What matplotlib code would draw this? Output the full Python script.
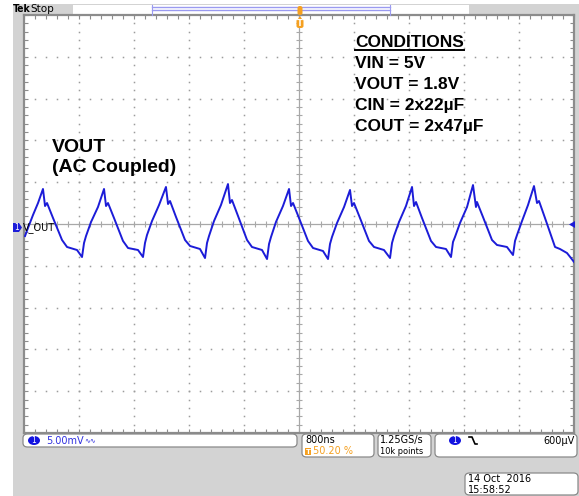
import numpy as np
import matplotlib
matplotlib.use("Agg")
import matplotlib.pyplot as plt
from matplotlib.patches import Rectangle, FancyBboxPatch, Ellipse, Polygon
from matplotlib.lines import Line2D

# ---------------- waveform (time in ns, VOUT in mV) ----------------
t_ns = [-3985, -3942, -3869, -3796, -3724,
        -3694, -3665, -3578, -3447, -3374, -3229, -3156, -3127, -3098, -3025, -2924, -2836,
        -2807, -2778, -2691, -2560, -2487, -2342, -2269, -2240, -2211, -2138, -2036, -1935,
        -1905, -1876, -1789, -1658, -1585, -1440, -1367, -1338, -1309, -1236, -1135, -1033,
        -1004, -975, -887, -756, -684, -538, -465, -436, -407, -335, -233, -145,
        -116, -87, 0, 131, 204, 349, 422, 451, 480, 553, 655, 742,
        771, 800, 887, 1018, 1091, 1236, 1324, 1353, 1382, 1455, 1556, 1644,
        1673, 1702, 1789, 1920, 1993, 2138, 2211, 2240, 2269, 2342, 2444, 2531,
        2574, 2589, 2676, 2807, 2880, 3025, 3113, 3142, 3171, 3244, 3331, 3418,
        3462, 3491, 3578, 3724, 3796, 3898, 3956, 4000]
v_mv = [-1.44, -0.48, 1.08, 2.51, 4.19,
        2.15, 2.51, 0.72, -1.91, -2.75, -3.11, -3.95, -2.27, -1.44, 0.24, 2.03, 4.19,
        2.15, 2.51, 0.72, -2.03, -2.87, -3.11, -3.95, -2.27, -1.32, 0.36, 2.27, 4.43,
        2.39, 2.75, 0.84, -1.91, -2.63, -2.99, -4.07, -2.27, -1.44, 0.36, 2.27, 4.78,
        2.51, 2.87, 0.96, -1.91, -2.75, -3.11, -4.19, -2.39, -1.55, 0.24, 2.15, 4.19,
        2.15, 2.51, 0.72, -2.03, -2.87, -3.23, -4.19, -2.39, -1.55, 0.12, 2.03, 4.07,
        2.15, 2.51, 0.72, -2.03, -2.75, -3.11, -4.07, -2.27, -1.44, 0.24, 2.15, 4.43,
        2.15, 2.63, 0.72, -2.03, -2.75, -2.99, -3.95, -2.15, -1.55, 0.12, 2.03, 4.66,
        2.03, 2.63, 0.84, -1.91, -2.51, -2.75, -3.71, -2.03, -1.32, 0.36, 2.27, 4.54,
        2.51, 2.75, 0.72, -2.75, -2.99, -3.47, -4.07, -4.54]

# scope settings / readouts
ns_per_div = 800
mv_per_div = 5
conditions = ["VIN = 5V", "VOUT = 1.8V", "CIN = 2x22\u00b5F", "COUT = 2x47\u00b5F"]

W, H = 579, 496
GRAY_BG = "#d3d3d3"
GRID = "#9c9c9c"
BLUE = "#1c1cd8"
ORANGE = "#f5a020"


def fx(px):
    return px / W


def fy(py):
    return 1 - py / H


fig = plt.figure(figsize=(W / 100, H / 100), dpi=100, facecolor="white")

# gray scope background
fig.patches.append(Rectangle((fx(13), 0), 1 - fx(13), fy(4), transform=fig.transFigure,
                             facecolor=GRAY_BG, edgecolor="none", zorder=-2))
# white part of the top bar
fig.patches.append(Rectangle((fx(73), fy(15)), fx(469) - fx(73), fy(5) - fy(15),
                             transform=fig.transFigure, facecolor="white", edgecolor="none", zorder=-1))

ax = fig.add_axes([fx(24), fy(433), fx(574) - fx(24), fy(15) - fy(433)])
ax.set_zorder(1)
ax.set_facecolor("white")
ax.set_xlim(-5 * ns_per_div, 5 * ns_per_div)
ax.set_ylim(-5 * mv_per_div, 5 * mv_per_div)
for s in ax.spines.values():
    s.set_color("#8c8c8c")
    s.set_linewidth(1.6)

minor_x = np.arange(-5 * ns_per_div, 5 * ns_per_div + 1, ns_per_div / 5)
minor_y = np.arange(-5 * mv_per_div, 5 * mv_per_div + 0.01, mv_per_div / 5)
ax.set_xticks(minor_x)
ax.set_yticks(minor_y)
ax.tick_params(direction="in", length=3, width=0.8, color="#8c8c8c",
               top=True, right=True, labelbottom=False, labelleft=False)

# dotted graticule
for k in range(1, 10):
    if k == 5:
        continue
    yv = -5 * mv_per_div + k * mv_per_div
    ax.plot(minor_x, np.full_like(minor_x, yv), ls="none", marker="s", ms=1.1, mew=0, color=GRID)
    xv = -5 * ns_per_div + k * ns_per_div
    ax.plot(np.full_like(minor_y, xv), minor_y, ls="none", marker="s", ms=1.1, mew=0, color=GRID)

# centre cross with ticks
ax.axhline(0, color="#a8a8a8", lw=0.9)
ax.axvline(0, color="#a8a8a8", lw=0.9)
ax.plot(minor_x, np.zeros_like(minor_x), ls="none", marker="|", ms=4, mew=0.8, color="#a8a8a8")
ax.plot(np.zeros_like(minor_y), minor_y, ls="none", marker="_", ms=4, mew=0.8, color="#a8a8a8")

# waveform
ax.plot(t_ns, v_mv, color=BLUE, lw=1.4, zorder=5)

# annotations
bold = dict(family="Liberation Sans", weight="bold", color="black", zorder=5)
fig.text(fx(52), fy(152), "VOUT", fontsize=14, va="baseline", **bold)
fig.text(fx(52), fy(172), "(AC Coupled)", fontsize=14, va="baseline", **bold)
ct = fig.text(fx(355), fy(47), "CONDITIONS", fontsize=12.5, va="baseline", **bold)
for i, line in enumerate(conditions):
    fig.text(fx(355), fy(68 + 21 * i), line, fontsize=12.5, va="baseline", **bold)
fig.canvas.draw()
bb = ct.get_window_extent()
fig.lines.append(Line2D([bb.x0 / W, bb.x1 / W], [fy(49.5), fy(49.5)], transform=fig.transFigure,
                        color="black", lw=1.4, zorder=5))

# top bar: Tek Stop, record view, trigger marks
small = dict(family="DejaVu Sans", fontsize=7.5, va="center", zorder=5)
fig.text(fx(13), fy(9.5), "Tek", weight="bold", fontstretch="condensed", **small)
fig.text(fx(30), fy(9.5), "Stop", **small)
for yy in (7.3, 10.3):
    fig.lines.append(Line2D([fx(152), fx(390)], [fy(yy), fy(yy)], transform=fig.transFigure,
                            color="#9a9af0", lw=1.0, zorder=2))
for xx in (152, 390):
    fig.lines.append(Line2D([fx(xx), fx(xx)], [fy(5), fy(15)], transform=fig.transFigure,
                            color="#9a9af0", lw=0.8, zorder=2))
fig.patches.append(FancyBboxPatch((fx(297.5), fy(15)), fx(5), fy(6) - fy(15),
                                  boxstyle="round,pad=0,rounding_size=0.004", transform=fig.transFigure,
                                  facecolor=ORANGE, edgecolor="none", zorder=6))
fig.patches.append(FancyBboxPatch((fx(296.5), fy(28)), fx(7), fy(19) - fy(28),
                                  boxstyle="round,pad=0,rounding_size=0.004", transform=fig.transFigure,
                                  facecolor=ORANGE, edgecolor="none", zorder=6))
fig.patches.append(Polygon([(fx(298), fy(19)), (fx(302), fy(19)), (fx(300), fy(16))],
                           transform=fig.transFigure, facecolor=ORANGE, edgecolor="none", zorder=6))
fig.text(fx(300), fy(23.5), "T", color="white", fontsize=6, weight="bold", ha="center", va="center",
         family="DejaVu Sans", zorder=7)

# channel 1 ground marker and label
fig.patches.append(Polygon([(fx(13), fy(223)), (fx(19), fy(223)), (fx(22), fy(227.5)),
                            (fx(19), fy(232)), (fx(13), fy(232))],
                           transform=fig.transFigure, facecolor=BLUE, edgecolor="none", zorder=6))
fig.text(fx(16.5), fy(227.5), "1", color="white", fontsize=5.5, ha="center", va="center",
         family="DejaVu Sans", zorder=7)
fig.text(fx(23), fy(227.5), "V_OUT", color="black", fontsize=7, va="center", family="DejaVu Sans", zorder=7)
# trigger level arrow on the right
fig.patches.append(Polygon([(fx(569), fy(224.5)), (fx(575), fy(221)), (fx(575), fy(228))],
                           transform=fig.transFigure, facecolor=BLUE, edgecolor="none", zorder=6))


# readout boxes
def box(x0, y0, x1, y1):
    fig.patches.append(FancyBboxPatch((fx(x0), fy(y1)), fx(x1) - fx(x0), fy(y0) - fy(y1),
                                      boxstyle="round,pad=0,rounding_size=0.008", transform=fig.transFigure,
                                      facecolor="white", edgecolor="#8a8a8a", lw=0.9, zorder=3))


def badge(cx, cy):
    fig.patches.append(Ellipse((fx(cx), fy(cy)), fx(12), fy(0) - fy(9), transform=fig.transFigure,
                               facecolor="#1212e0", edgecolor="none", zorder=4))
    fig.text(fx(cx), fy(cy), "1", color="white", fontsize=5.5, ha="center", va="center",
             family="DejaVu Sans", zorder=5)


small7 = dict(small, fontsize=7)

box(23, 434, 297, 447)
badge(34, 440.5)
fig.text(fx(46), fy(440.5), "5.00mV", color="#3030e0", **small7)
fig.text(fx(84), fy(440.5), "\u223f\u223f", color="#3030e0", family="DejaVu Sans", fontsize=5,
         va="center", zorder=5)

box(302, 434, 374, 457)
fig.text(fx(305), fy(440), "800ns", color="black", **small7)
fig.patches.append(Rectangle((fx(305), fy(455)), fx(6), fy(0) - fy(7), transform=fig.transFigure,
                             facecolor=ORANGE, edgecolor="none", zorder=4))
fig.text(fx(308), fy(451.5), "T", color="white", fontsize=5, weight="bold", ha="center", va="center",
         family="DejaVu Sans", zorder=5)
fig.text(fx(313), fy(451.5), "50.20 %", color=ORANGE, **small7)

box(378, 434, 431, 457)
fig.text(fx(380), fy(440), "1.25GS/s", color="black", **small7)
fig.text(fx(380), fy(451.5), "10k points", color="black", fontstretch="condensed",
         **dict(small7, fontsize=6.6))

box(435, 434, 577, 457)
badge(455, 440.5)
fig.lines.append(Line2D([fx(469), fx(472), fx(475), fx(477)],
                        [fy(437), fy(437), fy(444), fy(444)], transform=fig.transFigure,
                        color="black", lw=1.2, zorder=5))
fig.text(fx(575), fy(440.5), "600\u00b5V", color="black", ha="right", **small7)

box(465, 473, 578, 495)
fig.text(fx(468), fy(479), "14 Oct  2016", color="black", **small7)
fig.text(fx(468), fy(490), "15:58:52", color="black", **small7)

fig.savefig("out.png", dpi=100, facecolor=fig.get_facecolor())
